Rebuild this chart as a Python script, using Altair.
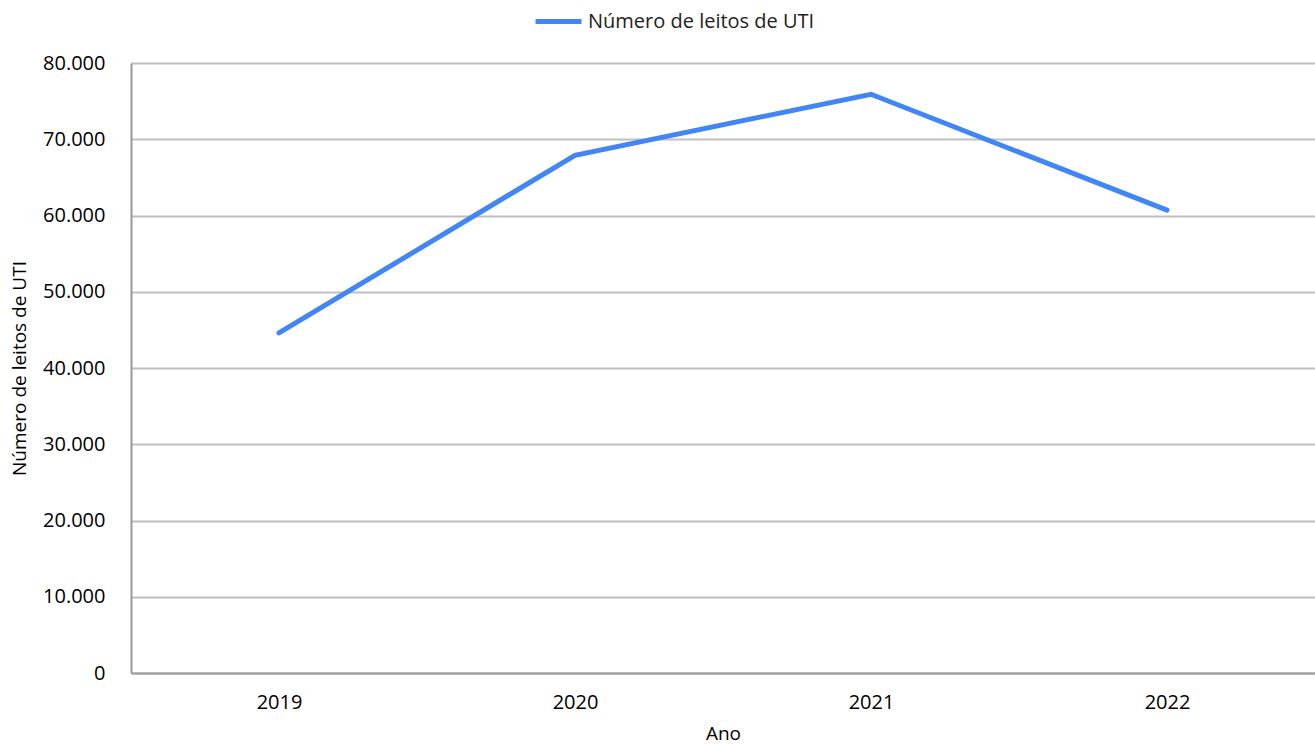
import altair as alt
import pandas as pd

anos = ["2019", "2020", "2021", "2022"]
leitos = [44600, 67900, 75900, 60700]
serie = ["Número de leitos de UTI"] * 4

df = pd.DataFrame({"Ano": anos, "Leitos": leitos, "Serie": serie})

FONT = "Open Sans"

chart = (
    alt.Chart(df)
    .mark_line(strokeWidth=5, strokeCap="round", strokeJoin="miter")
    .encode(
        x=alt.X(
            "Ano:O",
            scale=alt.Scale(type="point", padding=0.5),
            axis=alt.Axis(
                title="Ano",
                labelAngle=0,
                ticks=False,
                grid=False,
                domainColor="#999999",
                domainWidth=2,
                labelPadding=19,
                titlePadding=12,
            ),
        ),
        y=alt.Y(
            "Leitos:Q",
            scale=alt.Scale(domain=[0, 80000], nice=False),
            axis=alt.Axis(
                title="Número de leitos de UTI",
                values=list(range(0, 80001, 10000)),
                ticks=False,
                grid=True,
                gridColor="#bfbfbf",
                gridWidth=2,
                domainColor="#999999",
                domainWidth=2,
                labelPadding=26,
                titlePadding=13,
                labelExpr="replace(format(datum.value, ','), ',', '.')",
            ),
        ),
        color=alt.Color(
            "Serie:N",
            scale=alt.Scale(range=["#4285f4"]),
            legend=alt.Legend(
                title=None,
                orient="none",
                legendX=402,
                legendY=-67,
                symbolType="stroke",
                symbolSize=2116,
                symbolStrokeWidth=5,
                labelOffset=4,
                labelLimit=0,
            ),
        ),
    )
    .properties(
        width=1184,
        height=610,
        padding={"left": 131, "top": 63, "right": 0, "bottom": 71},
        autosize=alt.AutoSizeParams(type="none"),
    )
    .configure_view(stroke=None)
    .configure_axis(
        labelFont=FONT,
        titleFont=FONT,
        labelFontSize=20,
        titleFontSize=19,
        titleFontWeight="normal",
        labelColor="#000000",
        titleColor="#000000",
    )
    .configure_legend(labelFont=FONT, labelFontSize=20, labelColor="#222222")
)

chart.save("out.html", embed_options={"renderer": "svg", "actions": False})
